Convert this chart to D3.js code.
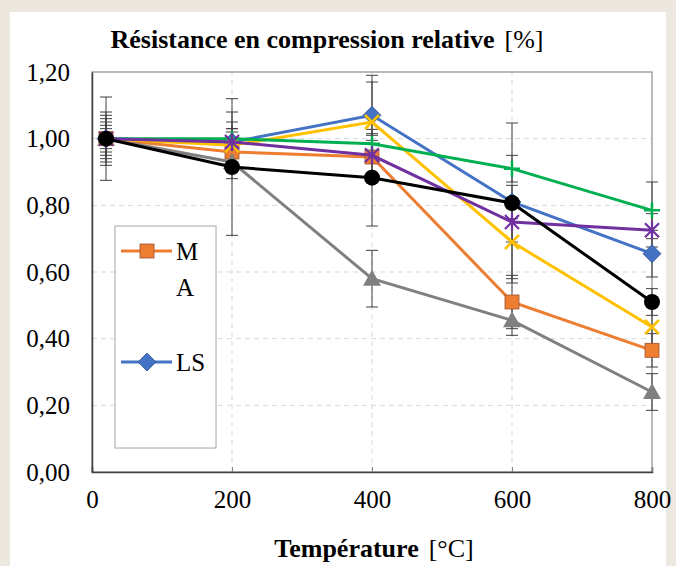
<!DOCTYPE html>
<html>
<head>
<meta charset="utf-8">
<script src="https://cdn.jsdelivr.net/npm/d3@7"></script>
<style>
  body { margin: 0; background: #ece8e0; }
  svg { display: block; }
</style>
</head>
<body>
<script>
// Data
const temperatures = [20, 200, 400, 600, 800]
const seriesNames = ['MA', 'LS', 'S3', 'S4', 'S5', 'S6', 'S7']
const seriesValues = [
  [1.00, 0.96, 0.945, 0.51, 0.365],
  [1.00, 0.99, 1.07, 0.81, 0.655],
  [1.00, 0.93, 0.58, 0.455, 0.24],
  [1.00, 0.98, 1.05, 0.69, 0.435],
  [1.00, 1.00, 0.985, 0.91, 0.785],
  [1.00, 0.99, 0.95, 0.75, 0.725],
  [1.00, 0.915, 0.883, 0.807, 0.51]
]
const seriesErrors = [
  [0.05, 0.06, 0.05, 0.08, 0.05],
  [0.06, 0.04, 0.12, 0.05, 0.07],
  [0.04, 0.05, 0.085, 0.045, 0.055],
  [0.08, 0.07, 0.12, 0.11, 0.06],
  [0.03, 0.03, 0.03, 0.04, 0.085],
  [0.07, 0.09, 0.06, 0.06, 0.05],
  [0.125, 0.205, 0.145, 0.24, 0.04]
]
const legendNames = ['MA', 'LS']
const xTicks = [0, 200, 400, 600, 800]
const yTicks = [0, 0.2, 0.4, 0.6, 0.8, 1.0, 1.2]

const colors = ['#ed7d31', '#4472c4', '#808080', '#ffc000', '#00b050', '#7030a0', '#000000']
const markers = ['square', 'diamond', 'triangle', 'x', 'plus', 'star', 'circle']

const width = 676
const height = 566
const margin = { left: 92, right: 24, top: 72, bottom: 94 }
const fontFamily = '"Liberation Serif", "DejaVu Serif", serif'

const svg = d3.select('body').append('svg')
  .attr('width', width)
  .attr('height', height)
  .style('font-family', fontFamily)

// white panel
svg.append('rect')
  .attr('x', 10).attr('y', 12)
  .attr('width', 656).attr('height', height - 12)
  .attr('fill', '#fff')

const x = d3.scaleLinear().domain([0, 800]).range([margin.left, width - margin.right])
const y = d3.scaleLinear().domain([0, 1.2]).range([height - margin.bottom, margin.top])

// gridlines
svg.append('g').selectAll('line').data(yTicks.slice(1, -1)).join('line')
  .attr('x1', x(0)).attr('x2', x(800))
  .attr('y1', d => y(d)).attr('y2', d => y(d))
  .attr('stroke', '#d9d9d9').attr('stroke-dasharray', '5,4')
svg.append('g').selectAll('line').data(xTicks.slice(1, -1)).join('line')
  .attr('x1', d => x(d)).attr('x2', d => x(d))
  .attr('y1', y(0)).attr('y2', y(1.2))
  .attr('stroke', '#d9d9d9').attr('stroke-dasharray', '5,4')

// frame
svg.append('rect')
  .attr('x', x(0)).attr('y', y(1.2))
  .attr('width', x(800) - x(0)).attr('height', y(0) - y(1.2))
  .attr('fill', 'none').attr('stroke', '#8c8c8c').attr('stroke-width', 1.2)

// axes
const xAxis = svg.append('g')
  .attr('transform', `translate(0,${y(0)})`)
  .call(d3.axisBottom(x).tickValues(xTicks).tickSize(-5).tickPadding(18).tickFormat(d3.format('d')))
xAxis.attr('font-family', fontFamily).attr('font-size', 25)
xAxis.select('.domain').attr('stroke', '#404040').attr('stroke-width', 1.5)
xAxis.selectAll('.tick line').attr('stroke', '#808080')
xAxis.selectAll('text').attr('fill', '#000')

const yAxis = svg.append('g')
  .attr('transform', `translate(${x(0)},0)`)
  .call(d3.axisLeft(y).tickValues(yTicks).tickSize(0).tickPadding(22)
    .tickFormat(d => d3.format('.2f')(d).replace('.', ',')))
yAxis.attr('font-family', fontFamily).attr('font-size', 25)
yAxis.select('.domain').attr('stroke', '#404040').attr('stroke-width', 1.5)
yAxis.selectAll('text').attr('fill', '#000')

// error bars
const errGroup = svg.append('g').attr('stroke', '#404040').attr('stroke-width', 1)
seriesValues.forEach((vals, si) => {
  vals.forEach((v, i) => {
    const e = seriesErrors[si][i]
    const cx = x(temperatures[i])
    errGroup.append('line')
      .attr('x1', cx).attr('x2', cx).attr('y1', y(v + e)).attr('y2', y(v - e))
    ;[v + e, v - e].forEach(t => {
      errGroup.append('line')
        .attr('x1', cx - 6).attr('x2', cx + 6).attr('y1', y(t)).attr('y2', y(t))
    })
  })
})

function drawMarker (g, type, color, cx, cy) {
  if (type === 'square') {
    g.append('rect').attr('x', cx - 7).attr('y', cy - 7).attr('width', 14).attr('height', 14)
      .attr('fill', color).attr('stroke', '#a0522d').attr('stroke-width', 0.8)
  } else if (type === 'diamond') {
    g.append('path').attr('d', `M${cx},${cy - 9}L${cx + 9},${cy}L${cx},${cy + 9}L${cx - 9},${cy}Z`)
      .attr('fill', color).attr('stroke', '#2f528f').attr('stroke-width', 0.8)
  } else if (type === 'triangle') {
    g.append('path').attr('d', `M${cx},${cy - 9}L${cx + 9},${cy + 7}L${cx - 9},${cy + 7}Z`)
      .attr('fill', color)
  } else if (type === 'circle') {
    g.append('circle').attr('cx', cx).attr('cy', cy).attr('r', 8).attr('fill', color)
  } else if (type === 'x') {
    g.append('path').attr('d', `M${cx - 7},${cy - 7}L${cx + 7},${cy + 7}M${cx - 7},${cy + 7}L${cx + 7},${cy - 7}`)
      .attr('stroke', color).attr('stroke-width', 2.5).attr('fill', 'none')
  } else if (type === 'plus') {
    g.append('path').attr('d', `M${cx - 8},${cy}L${cx + 8},${cy}M${cx},${cy - 8}L${cx},${cy + 8}`)
      .attr('stroke', color).attr('stroke-width', 2.5).attr('fill', 'none')
  } else if (type === 'star') {
    g.append('path').attr('d', `M${cx - 7},${cy - 7}L${cx + 7},${cy + 7}M${cx - 7},${cy + 7}L${cx + 7},${cy - 7}M${cx},${cy - 9}L${cx},${cy + 9}`)
      .attr('stroke', color).attr('stroke-width', 2.2).attr('fill', 'none')
  }
}

// lines and markers
const line = d3.line().x((d, i) => x(temperatures[i])).y(d => y(d))
seriesValues.forEach((vals, si) => {
  const g = svg.append('g')
  g.append('path').datum(vals)
    .attr('d', line)
    .attr('fill', 'none')
    .attr('stroke', colors[si])
    .attr('stroke-width', 3)
  vals.forEach((v, i) => drawMarker(g, markers[si], colors[si], x(temperatures[i]), y(v)))
})

// legend
const legend = svg.append('g')
legend.append('rect')
  .attr('x', 115).attr('y', 226).attr('width', 101).attr('height', 222)
  .attr('fill', '#fff').attr('stroke', '#a6a6a6')
const legendRows = [251, 362]
legendNames.forEach((name, li) => {
  const si = seriesNames.indexOf(name)
  const ly = legendRows[li]
  legend.append('line')
    .attr('x1', 121).attr('x2', 172).attr('y1', ly).attr('y2', ly)
    .attr('stroke', colors[si]).attr('stroke-width', 3)
  drawMarker(legend, markers[si], colors[si], 147, ly)
  const t = legend.append('text').attr('x', 176).attr('y', ly + 9).attr('font-size', 25)
  if (name === 'MA') {
    t.append('tspan').attr('x', 176).text('M')
    t.append('tspan').attr('x', 176).attr('dy', 36).text('A')
  } else {
    t.text(name)
  }
})

// title
const title = svg.append('text')
  .attr('x', 327).attr('y', 48)
  .attr('text-anchor', 'middle')
  .attr('font-size', 26)
title.append('tspan').attr('font-weight', 'bold').text('Résistance en compression relative')
title.append('tspan').attr('dx', 10).text('[%]')

// x axis title
const xTitle = svg.append('text')
  .attr('x', (x(0) + x(800)) / 2 + 2).attr('y', 557)
  .attr('text-anchor', 'middle')
  .attr('font-size', 26)
xTitle.append('tspan').attr('font-weight', 'bold').text('Température')
xTitle.append('tspan').attr('dx', 10).text('[°C]')
</script>
</body>
</html>
